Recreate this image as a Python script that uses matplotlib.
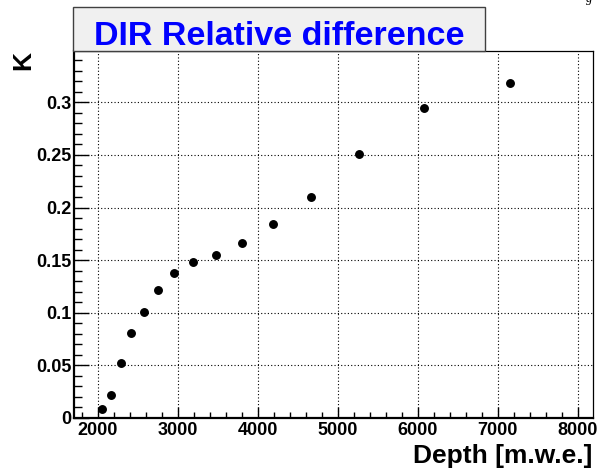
import matplotlib
matplotlib.use("Agg")
import matplotlib.pyplot as plt
from matplotlib.patches import Rectangle
from matplotlib.ticker import MultipleLocator

# depth [m.w.e.] and relative difference K
depth = [2046, 2159, 2284, 2416, 2571, 2750, 2950, 3192, 3472, 3799,
         4193, 4665, 5265, 6080, 7150]
k_val = [0.0087, 0.022, 0.0527, 0.0805, 0.1004, 0.1213, 0.138, 0.148,
         0.1547, 0.166, 0.1844, 0.210, 0.251, 0.295, 0.318]

TITLE = "DIR Relative difference"
XLABEL = "Depth [m.w.e.]"
YLABEL = "K"

W, H = 605, 470
plt.rcParams["font.family"] = ["Liberation Sans", "DejaVu Sans"]

fig = plt.figure(figsize=(W / 100, H / 100), dpi=100)
ax = fig.add_axes([74 / W, 1 - 418 / H, (593 - 74) / W, (418 - 50.7) / H])

ax.plot(depth, k_val, "o", color="black", ms=5.4, ls="none", zorder=3)

ax.set_xlim(1700, 8190)
ax.set_ylim(0, 0.349)

ax.xaxis.set_major_locator(MultipleLocator(1000))
ax.xaxis.set_minor_locator(MultipleLocator(200))
ax.yaxis.set_major_locator(MultipleLocator(0.05))
ax.yaxis.set_minor_locator(MultipleLocator(0.01))
ax.yaxis.set_major_formatter(plt.FuncFormatter(lambda v, p: f"{v:g}"))

ax.grid(True, which="major", color="black", lw=0.8, ls=(0, (1, 2)))
ax.tick_params(axis="x", which="major", direction="in", length=8, width=1.0,
               labelsize=13, pad=3, top=False)
ax.tick_params(axis="x", which="minor", direction="in", length=4, width=1.0,
               top=False)
ax.tick_params(axis="y", which="major", direction="in", length=11, width=1.0,
               labelsize=13, pad=2, right=False)
ax.tick_params(axis="y", which="minor", direction="in", length=5.5, width=1.0,
               right=False)
for lbl in ax.get_xticklabels() + ax.get_yticklabels():
    lbl.set_fontweight("bold")

for side in ("left", "bottom"):
    ax.spines[side].set_linewidth(1.6)
for side in ("top", "right"):
    ax.spines[side].set_linewidth(0.9)

# axis titles, ROOT style (right/top aligned)
fig.text(592 / W, 1 - 463 / H, XLABEL, ha="right", va="baseline",
         fontsize=19, fontweight="bold")
fig.text(23 / W, 1 - 51 / H, YLABEL, ha="center", va="top", rotation=90,
         fontsize=19, fontweight="bold")

# title pave
box = Rectangle((73 / W, 1 - 50.7 / H), (485 - 73) / W, (50.7 - 7) / H,
                transform=fig.transFigure, facecolor="#f0f0f0",
                edgecolor="#404040", lw=1.0, zorder=5)
fig.add_artist(box)
fig.text(279 / W, 1 - 45 / H, TITLE, ha="center", va="baseline",
         fontsize=24.5, fontweight="bold", color="#0000ff", zorder=6)

# clipped corner text
fig.text(586 / W, 1 + 1 / H, "g", ha="left", va="center", fontsize=9,
         style="italic", family="Liberation Serif")

fig.savefig("out.png", dpi=100)
